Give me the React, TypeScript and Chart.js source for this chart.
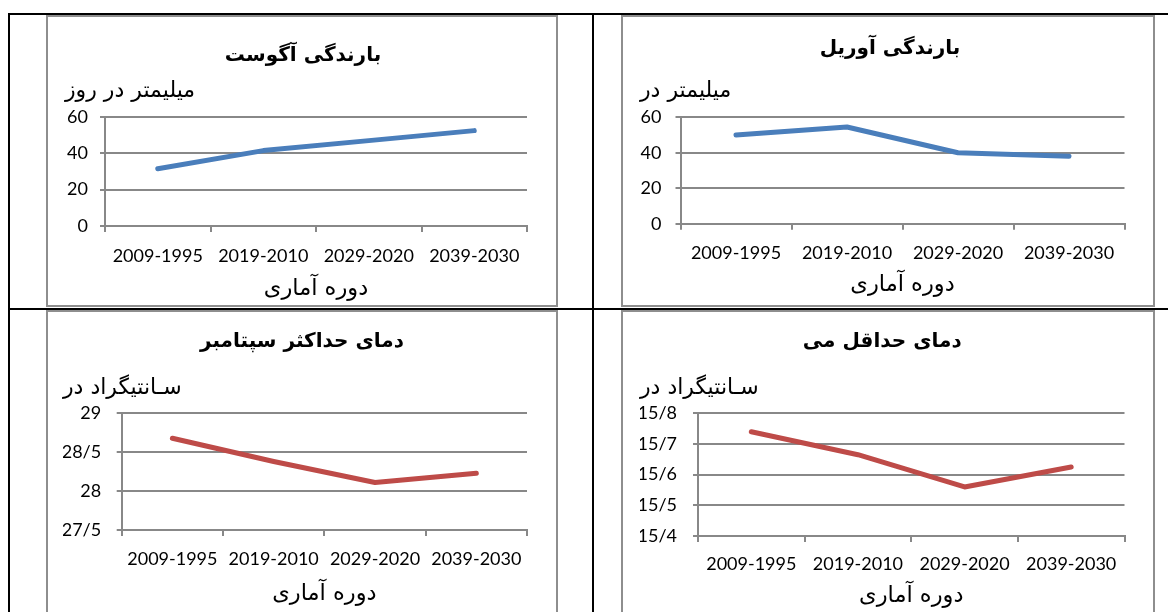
import React, { useEffect, useRef } from 'react';
import { Chart, registerables } from 'chart.js';

Chart.register(...registerables);

// ---------- data ----------
const periods = ['2009-1995', '2019-2010', '2029-2020', '2039-2030'];

const augustRain = [31.5, 41.5, 47, 52.5];
const aprilRain = [50, 54.5, 40, 38];
const septMaxTemp = [28.68, 28.38, 28.11, 28.23];
const mayMinTemp = [15.74, 15.665, 15.56, 15.625];

const rainTickLabels = ['0', '20', '40', '60'];
const septTickLabels = ['27/5', '28', '28/5', '29'];
const mayTickLabels = ['15/4', '15/5', '15/6', '15/7', '15/8'];

const titleAugust = 'بارندگی آگوست';
const titleApril = 'بارندگی آوریل';
const titleSept = 'دمای حداکثر سپتامبر';
const titleMay = 'دمای حداقل می';

const unitAugust = 'میلیمتر در روز';
const unitApril = 'میلیمتر در';
const unitTemp = 'سـانتیگراد در';

const xAxisTitle = 'دوره آماری';

// ---------- styles ----------
const PERSIAN = "'DejaVu Sans', sans-serif";
const NUM = "Lato, 'DejaVu Sans', sans-serif";
const GRAY = '#888888';
const FRAME = '#8e8e8e';
const BLUE = '#4A7EBB';
const RED = '#BE4B48';

type Spec = {
  key: string;
  frame: { x: number; y: number; w: number; h: number };
  canvas: { x: number; y: number; w: number; h: number };
  title: string;
  unit: string;
  values: number[];
  color: string;
  min: number;
  max: number;
  step: number;
  tickLabels: string[];
  padL: number;
  padR: number;
  rightW: number;
  yW: number;
  yPad: number;
  titlePt: number;
  subPt: number;
  subPb: number;
  xH: number;
  xPad: number;
  xTitlePb: number;
};

const specs: Spec[] = [
  {
    key: 'aug',
    frame: { x: 46, y: 15, w: 512, h: 292 },
    canvas: { x: 48, y: 17, w: 508, h: 288 },
    title: titleAugust, unit: unitAugust, values: augustRain, color: BLUE,
    min: 0, max: 60, step: 20, tickLabels: rainTickLabels,
    padL: 17, padR: 15, rightW: 14, yW: 40, yPad: 12,
    titlePt: 27, subPt: 9.8, subPb: 12.8,
    xH: 79, xPad: 13.2, xTitlePb: 2.5,
  },
  {
    key: 'apr',
    frame: { x: 621, y: 15, w: 534, h: 292 },
    canvas: { x: 623, y: 17, w: 530, h: 288 },
    title: titleApril, unit: unitApril, values: aprilRain, color: BLUE,
    min: 0, max: 60, step: 20, tickLabels: rainTickLabels,
    padL: 17, padR: 13, rightW: 15.5, yW: 40.5, yPad: 14,
    titlePt: 20, subPt: 16.8, subPb: 13.1,
    xH: 81.3, xPad: 12.5, xTitlePb: 6.5,
  },
  {
    key: 'sep',
    frame: { x: 46, y: 310, w: 512, h: 310 },
    canvas: { x: 48, y: 312, w: 508, h: 300 },
    title: titleSept, unit: unitTemp, values: septMaxTemp, color: RED,
    min: 27.5, max: 29, step: 0.5, tickLabels: septTickLabels,
    padL: 15, padR: 15, rightW: 14, yW: 58.7, yPad: 15.5,
    titlePt: 18, subPt: 20.8, subPb: 12.1,
    xH: 82, xPad: 12.2, xTitlePb: 4.5,
  },
  {
    key: 'may',
    frame: { x: 621, y: 310, w: 534, h: 310 },
    canvas: { x: 623, y: 312, w: 530, h: 300 },
    title: titleMay, unit: unitTemp, values: mayMinTemp, color: RED,
    min: 15.4, max: 15.8, step: 0.1, tickLabels: mayTickLabels,
    padL: 17, padR: 28.5, rightW: 0, yW: 58, yPad: 16,
    titlePt: 18, subPt: 20.8, subPb: 12.1,
    xH: 76, xPad: 11.2, xTitlePb: 2.5,
  },
];

function LineChart({ spec }: { spec: Spec }) {
  const ref = useRef<HTMLCanvasElement>(null);
  useEffect(() => {
    if (!ref.current) return;
    const chart = new Chart(ref.current, {
      type: 'line',
      data: {
        labels: periods,
        datasets: [
          {
            data: spec.values,
            borderColor: spec.color,
            backgroundColor: spec.color,
            borderWidth: 5,
            pointRadius: 0,
            tension: 0,
            borderCapStyle: 'round',
            borderJoinStyle: 'round',
            fill: false,
            yAxisID: 'y',
          },
        ],
      },
      options: {
        animation: false,
        responsive: false,
        devicePixelRatio: 1,
        layout: { padding: { left: spec.padL, right: spec.padR, top: 0, bottom: 0 } },
        plugins: {
          legend: { display: false },
          tooltip: { enabled: false },
          title: {
            display: true,
            text: spec.title,
            align: 'center',
            color: '#000',
            font: { family: PERSIAN, size: 20, weight: 'bold', lineHeight: 1.2 },
            padding: { top: spec.titlePt, bottom: 0 },
          },
          subtitle: {
            display: true,
            text: spec.unit,
            align: 'start',
            color: '#000',
            font: { family: PERSIAN, size: 22, lineHeight: 1.2 },
            padding: { top: spec.subPt, bottom: spec.subPb },
          },
        },
        scales: {
          x: {
            type: 'category',
            offset: true,
            grid: {
              display: true,
              drawOnChartArea: false,
              drawTicks: true,
              tickLength: 6,
              offset: true,
              color: GRAY,
              lineWidth: 2,
            },
            border: { display: true, color: GRAY, width: 2 },
            ticks: {
              color: '#000',
              font: { family: NUM, size: 18, lineHeight: 1.2 },
              padding: spec.xPad,
              maxRotation: 0,
              autoSkip: false,
            },
            title: {
              display: true,
              text: xAxisTitle,
              color: '#000',
              font: { family: PERSIAN, size: 22.5, lineHeight: 1.2 },
              padding: { top: 0, bottom: spec.xTitlePb },
            },
            afterFit: (s: any) => {
              s.height = spec.xH;
            },
          },
          y: {
            min: spec.min,
            max: spec.max,
            ticks: {
              stepSize: spec.step,
              padding: spec.yPad,
              color: '#000',
              font: { family: NUM, size: 18, lineHeight: 1.2 },
              callback: (_v: any, i: number) => spec.tickLabels[i],
            },
            grid: { color: GRAY, lineWidth: 2, tickLength: 5, drawTicks: true },
            border: { display: true, color: GRAY, width: 2 },
            afterFit: (s: any) => {
              s.width = spec.yW;
            },
          },
          // empty spacer on the right (no data, nothing drawn)
          spacer: {
            type: 'linear',
            position: 'right',
            display: spec.rightW > 0,
            grid: { display: false, drawTicks: false },
            border: { display: false },
            ticks: { display: false },
            afterFit: (s: any) => {
              s.width = spec.rightW;
            },
          },
        },
      },
    } as any);
    return () => chart.destroy();
  }, [spec]);
  const c = spec.canvas;
  return (
    <canvas
      ref={ref}
      width={c.w}
      height={c.h}
      style={{ position: 'absolute', left: c.x, top: c.y, width: c.w, height: c.h }}
    />
  );
}

export default function App() {
  const black = (style: React.CSSProperties) => (
    <div style={{ position: 'absolute', background: '#000', ...style }} />
  );
  return (
    <div
      style={{
        position: 'absolute',
        left: 0,
        top: 0,
        width: 1168,
        height: 612,
        overflow: 'hidden',
        background: '#fff',
      }}
    >
      {black({ left: 8, top: 13, width: 1160, height: 2 })}
      {black({ left: 8, top: 308, width: 1160, height: 2 })}
      {black({ left: 8, top: 13, width: 2, height: 600 })}
      {black({ left: 592, top: 13, width: 2, height: 600 })}
      {specs.map((s) => (
        <div
          key={'f' + s.key}
          style={{
            position: 'absolute',
            left: s.frame.x,
            top: s.frame.y,
            width: s.frame.w,
            height: s.frame.h,
            boxSizing: 'border-box',
            border: `2px solid ${FRAME}`,
          }}
        />
      ))}
      {specs.map((s) => (
        <LineChart key={s.key} spec={s} />
      ))}
    </div>
  );
}
